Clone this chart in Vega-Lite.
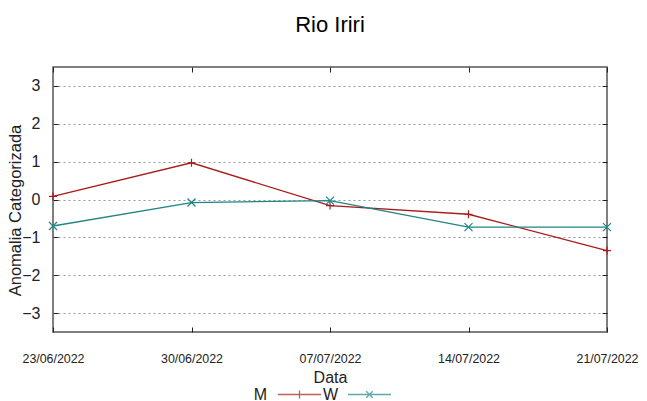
{
  "$schema": "https://vega.github.io/schema/vega-lite/v6.json",
  "width": 554,
  "height": 265,
  "autosize": {"type": "none"},
  "padding": {"left": 53, "top": 67, "right": 40, "bottom": 69},
  "title": {"text": "Rio Iriri", "font": "Liberation Sans", "fontSize": 22, "fontWeight": "normal", "color": "#000", "offset": 30, "anchor": "middle"},
  "config": {
    "view": {"stroke": "#555", "strokeWidth": 1.5},
    "font": "Liberation Sans",
    "axis": {"domain": false, "labelColor": "#222", "titleColor": "#222", "titleFontWeight": "normal", "tickColor": "#222"}
  },
  "data": {
    "values": [
      {"date": "2022-06-23", "series": "M", "value": 0.08},
      {"date": "2022-06-30", "series": "M", "value": 0.97},
      {"date": "2022-07-07", "series": "M", "value": -0.16},
      {"date": "2022-07-14", "series": "M", "value": -0.39},
      {"date": "2022-07-21", "series": "M", "value": -1.35},
      {"date": "2022-06-23", "series": "W", "value": -0.7},
      {"date": "2022-06-30", "series": "W", "value": -0.08},
      {"date": "2022-07-07", "series": "W", "value": -0.03},
      {"date": "2022-07-14", "series": "W", "value": -0.73},
      {"date": "2022-07-21", "series": "W", "value": -0.73}
    ]
  },
  "layer": [
    {
      "mark": {"type": "line", "strokeWidth": 1.3},
      "encoding": {
        "x": {
          "field": "date", "type": "temporal",
          "scale": {"type": "utc", "domain": [{"year": 2022, "month": 6, "date": 23, "utc": true}, {"year": 2022, "month": 7, "date": 21, "utc": true}]},
          "axis": {
            "orient": "bottom",
            "values": [
              {"year": 2022, "month": 6, "date": 23, "utc": true},
              {"year": 2022, "month": 6, "date": 30, "utc": true},
              {"year": 2022, "month": 7, "date": 7, "utc": true},
              {"year": 2022, "month": 7, "date": 14, "utc": true},
              {"year": 2022, "month": 7, "date": 21, "utc": true}
            ],
            "labelExpr": "utcFormat(datum.value, '%d/%m/%Y')",
            "title": "Data", "titleFontSize": 16, "titlePadding": 5,
            "labelFontSize": 12.4, "labelPadding": 25, "labelDx": 7,
            "labelFlush": false, "labelOverlap": false,
            "tickSize": -5, "grid": false
          }
        },
        "y": {
          "field": "value", "type": "quantitative",
          "scale": {"domain": [-3.5, 3.5], "nice": false, "zero": false},
          "axis": {
            "orient": "left",
            "values": [-3, -2, -1, 0, 1, 2, 3],
            "title": "Anomalia Categorizada", "titleFontSize": 16.5, "titlePadding": -2, "titleY": 143,
            "labelFontSize": 16, "labelPadding": 18, "tickSize": -5,
            "grid": true, "gridDash": [2, 3], "gridColor": "#999", "gridWidth": 1
          }
        },
        "color": {"field": "series", "type": "nominal", "scale": {"domain": ["M", "W"], "range": ["#a81c1c", "#1f8585"]}, "legend": null}
      }
    },
    {
      "mark": {"type": "point", "filled": false, "size": 64, "strokeWidth": 1.2, "opacity": 1},
      "encoding": {
        "x": {
          "field": "date", "type": "temporal",
          "axis": {
            "orient": "top",
            "values": [
              {"year": 2022, "month": 6, "date": 23, "utc": true},
              {"year": 2022, "month": 6, "date": 30, "utc": true},
              {"year": 2022, "month": 7, "date": 7, "utc": true},
              {"year": 2022, "month": 7, "date": 14, "utc": true},
              {"year": 2022, "month": 7, "date": 21, "utc": true}
            ],
            "labels": false, "title": null, "grid": false, "tickSize": -5
          }
        },
        "y": {
          "field": "value", "type": "quantitative",
          "axis": {"orient": "right", "values": [-3, -2, -1, 0, 1, 2, 3], "labels": false, "title": null, "grid": false, "tickSize": -5}
        },
        "color": {"field": "series", "type": "nominal", "legend": null},
        "shape": {"field": "series", "type": "nominal", "scale": {"domain": ["M", "W"], "range": ["M-1,0H1M0,-1V1", "M-1,-1L1,1M-1,1L1,-1"]}, "legend": null}
      }
    },
    {
      "transform": [{"filter": "false"}],
      "mark": {"type": "point", "filled": false, "strokeWidth": 1.3},
      "encoding": {
        "x": {"field": "date", "type": "temporal", "axis": null},
        "y": {"field": "value", "type": "quantitative", "axis": null},
        "shape": {
          "field": "series", "type": "nominal",
          "scale": {"domain": ["M"], "range": ["M-1,0H1M0,-0.19V0.19"]},
          "legend": {
            "title": null, "orient": "none", "legendX": 224, "legendY": 305, "direction": "horizontal",
            "symbolSize": 1849, "symbolStrokeWidth": 1.3, "symbolStrokeColor": "#a81c1c",
            "labelFontSize": 16, "labelColor": "#222", "labelAlign": "right", "labelOffset": -55
          }
        }
      }
    },
    {
      "transform": [{"filter": "false"}],
      "mark": {"type": "point", "filled": false, "strokeWidth": 1.3},
      "encoding": {
        "x": {"field": "date", "type": "temporal", "axis": null},
        "y": {"field": "value", "type": "quantitative", "axis": null},
        "shape": {
          "field": "series", "type": "nominal",
          "scale": {"domain": ["W"], "range": ["M-1,0H1M-0.15,-0.15L0.15,0.15M-0.15,0.15L0.15,-0.15"]},
          "legend": {
            "title": null, "orient": "none", "legendX": 294, "legendY": 305, "direction": "horizontal",
            "symbolSize": 1849, "symbolStrokeWidth": 1.3, "symbolStrokeColor": "#1f8585",
            "labelFontSize": 16, "labelColor": "#222", "labelAlign": "right", "labelOffset": -54
          }
        }
      }
    }
  ],
  "resolve": {"scale": {"shape": "independent"}, "axis": {"y": "independent", "x": "independent"}, "legend": {"shape": "independent"}}
}
